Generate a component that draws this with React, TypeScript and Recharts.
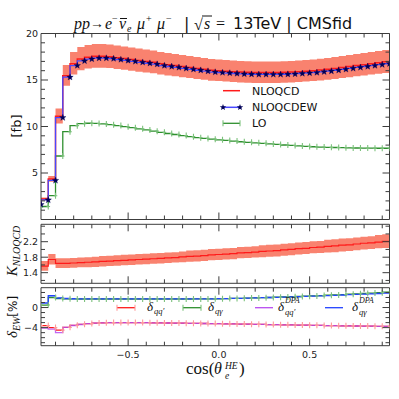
import React from "react";
import { ComposedChart, Line, Area, XAxis, YAxis } from "recharts";

// Differential cross section in cos(theta_e^HE) with K-factor and EW corrections.
// Each value sits at the right edge of its bin (step "pre" style).

const X_EDGES = [
  -0.98, -0.94, -0.9, -0.86, -0.82, -0.78, -0.74, -0.7, -0.66, -0.62,
  -0.58, -0.54, -0.5, -0.46, -0.42, -0.38, -0.34, -0.3, -0.26, -0.22,
  -0.18, -0.14, -0.1, -0.06, -0.02, 0.02, 0.06, 0.1, 0.14, 0.18,
  0.22, 0.26, 0.3, 0.34, 0.38, 0.42, 0.46, 0.5, 0.54, 0.58,
  0.62, 0.66, 0.7, 0.74, 0.78, 0.82, 0.86, 0.9, 0.94,
];

const NLOQCD = [
  1.7, 2.2, 4.35, 11.1, 15.45, 16.75, 17.25, 17.45, 17.55, 17.55,
  17.5, 17.4, 17.3, 17.2, 17.1, 17.0, 16.9, 16.75, 16.65, 16.55,
  16.45, 16.35, 16.25, 16.15, 16.05, 16.0, 15.95, 15.9, 15.85, 15.82,
  15.8, 15.8, 15.8, 15.8, 15.82, 15.85, 15.9, 15.95, 16.0, 16.08,
  16.15, 16.25, 16.35, 16.45, 16.55, 16.65, 16.75, 16.85, 16.95,
];
const NLOQCD_HI = [
  1.83, 2.37, 4.68, 11.93, 16.61, 18.0, 18.54, 18.76, 18.87, 18.87,
  18.81, 18.71, 18.6, 18.49, 18.38, 18.28, 18.17, 18.01, 17.9, 17.79,
  17.68, 17.58, 17.47, 17.36, 17.25, 17.2, 17.15, 17.09, 17.04, 17.01,
  16.99, 16.99, 16.99, 16.99, 17.01, 17.04, 17.09, 17.15, 17.2, 17.29,
  17.36, 17.47, 17.58, 17.68, 17.79, 17.9, 18.01, 18.11, 18.22,
];
const NLOQCD_LO = [
  1.58, 2.05, 4.05, 10.32, 14.37, 15.58, 16.04, 16.23, 16.32, 16.32,
  16.28, 16.18, 16.09, 16.0, 15.9, 15.81, 15.72, 15.58, 15.48, 15.39,
  15.3, 15.21, 15.11, 15.02, 14.93, 14.88, 14.83, 14.79, 14.74, 14.71,
  14.69, 14.69, 14.69, 14.69, 14.71, 14.74, 14.79, 14.83, 14.88, 14.95,
  15.02, 15.11, 15.21, 15.3, 15.39, 15.48, 15.58, 15.67, 15.76,
];
const NLOQCDEW = [
  1.6, 2.1, 4.2, 10.95, 15.3, 16.55, 17.05, 17.25, 17.35, 17.35,
  17.3, 17.2, 17.1, 17.0, 16.9, 16.8, 16.7, 16.55, 16.45, 16.35,
  16.25, 16.15, 16.05, 15.95, 15.85, 15.8, 15.75, 15.7, 15.65, 15.62,
  15.6, 15.6, 15.6, 15.6, 15.62, 15.65, 15.7, 15.75, 15.8, 15.88,
  15.95, 16.05, 16.15, 16.25, 16.35, 16.45, 16.55, 16.65, 16.75,
];
const LO = [
  1.38, 1.4, 2.56, 6.83, 9.44, 10.09, 10.3, 10.35, 10.33, 10.28,
  10.2, 10.1, 9.98, 9.87, 9.75, 9.63, 9.5, 9.37, 9.25, 9.14,
  9.02, 8.91, 8.8, 8.72, 8.64, 8.57, 8.5, 8.43, 8.36, 8.3,
  8.24, 8.19, 8.13, 8.07, 8.01, 7.96, 7.91, 7.86, 7.82, 7.79,
  7.76, 7.74, 7.72, 7.7, 7.69, 7.68, 7.67, 7.66, 7.66,
];

const K_NLO = [
  1.57, 1.57, 1.74, 1.64, 1.64, 1.65, 1.66, 1.67, 1.68, 1.69,
  1.7, 1.71, 1.72, 1.73, 1.74, 1.75, 1.76, 1.77, 1.78, 1.79,
  1.81, 1.82, 1.83, 1.84, 1.86, 1.87, 1.88, 1.89, 1.91, 1.92,
  1.93, 1.95, 1.96, 1.97, 1.99, 2.0, 2.02, 2.03, 2.05, 2.06,
  2.08, 2.09, 2.11, 2.12, 2.14, 2.16, 2.17, 2.19, 2.21,
];
const K_HI = [
  1.7, 1.7, 1.88, 1.77, 1.77, 1.78, 1.79, 1.8, 1.81, 1.83,
  1.84, 1.85, 1.86, 1.87, 1.88, 1.89, 1.9, 1.91, 1.92, 1.93,
  1.95, 1.97, 1.98, 1.99, 2.01, 2.02, 2.03, 2.04, 2.06, 2.07,
  2.08, 2.11, 2.12, 2.13, 2.15, 2.16, 2.18, 2.19, 2.21, 2.22,
  2.25, 2.26, 2.28, 2.29, 2.31, 2.33, 2.34, 2.37, 2.39,
];
const K_LO = [
  1.45, 1.45, 1.61, 1.52, 1.52, 1.53, 1.54, 1.54, 1.55, 1.56,
  1.57, 1.58, 1.59, 1.6, 1.61, 1.62, 1.63, 1.64, 1.65, 1.66,
  1.67, 1.68, 1.69, 1.7, 1.72, 1.73, 1.74, 1.75, 1.77, 1.78,
  1.79, 1.8, 1.81, 1.82, 1.84, 1.85, 1.87, 1.88, 1.9, 1.91,
  1.92, 1.93, 1.95, 1.96, 1.98, 2.0, 2.01, 2.03, 2.04,
];

// EW corrections in percent
const D_QQ = [
  -3.6, -3.6, -4.0, -4.5, -3.95, -3.55, -3.35, -3.2, -3.1, -3.05,
  -3.0, -3.0, -3.0, -3.0, -3.0, -3.02, -3.04, -3.06, -3.08, -3.1,
  -3.12, -3.14, -3.16, -3.18, -3.2, -3.22, -3.25, -3.27, -3.3, -3.32,
  -3.35, -3.37, -3.4, -3.42, -3.45, -3.47, -3.5, -3.52, -3.55, -3.57,
  -3.6, -3.62, -3.64, -3.66, -3.68, -3.7, -3.72, -3.74, -3.76,
];
const D_QA = [
  0.5, 0.5, 2.0, 1.8, 1.75, 1.72, 1.7, 1.7, 1.7, 1.7,
  1.7, 1.7, 1.7, 1.7, 1.7, 1.7, 1.7, 1.7, 1.7, 1.7,
  1.7, 1.7, 1.71, 1.72, 1.73, 1.75, 1.78, 1.81, 1.84, 1.88,
  1.92, 1.96, 2.0, 2.05, 2.1, 2.15, 2.2, 2.26, 2.32, 2.38,
  2.45, 2.52, 2.59, 2.66, 2.73, 2.8, 2.88, 2.96, 3.05,
];
const D_QQ_DPA = [
  -4.1, -4.1, -4.3, -5.0, -3.95, -3.58, -3.38, -3.22, -3.12, -3.07,
  -3.0, -3.0, -3.0, -3.0, -3.0, -3.02, -3.04, -3.06, -3.08, -3.1,
  -3.12, -3.14, -3.16, -3.18, -3.2, -3.22, -3.25, -3.27, -3.3, -3.32,
  -3.35, -3.37, -3.4, -3.42, -3.45, -3.47, -3.5, -3.52, -3.55, -3.57,
  -3.6, -3.62, -3.64, -3.66, -3.68, -3.7, -3.72, -3.74, -3.76,
];
const D_QA_DPA = [
  0.9, 0.9, 2.35, 1.9, 1.8, 1.75, 1.73, 1.72, 1.72, 1.72,
  1.72, 1.72, 1.72, 1.72, 1.72, 1.72, 1.72, 1.72, 1.72, 1.72,
  1.72, 1.72, 1.72, 1.73, 1.74, 1.76, 1.78, 1.81, 1.84, 1.88,
  1.92, 1.96, 2.0, 2.04, 2.08, 2.12, 2.17, 2.22, 2.27, 2.32,
  2.38, 2.44, 2.5, 2.56, 2.62, 2.68, 2.74, 2.8, 2.87,
];

const X_TICKS = [-0.9, -0.8, -0.7, -0.6, -0.5, -0.4, -0.3, -0.2, -0.1, 0, 0.1, 0.2, 0.3, 0.4, 0.5, 0.6, 0.7, 0.8, 0.9];
const X_MAJOR = [-0.5, 0, 0.5];
const TOP_Y_TICKS = [1, 2, 3, 4, 5, 6, 7, 8, 9, 10, 11, 12, 13, 14, 15, 16, 17, 18, 19, 20];
const TOP_Y_MAJOR = [5, 10, 15, 20];
const K_Y_TICKS = [1.2, 1.4, 1.6, 1.8, 2.0, 2.2, 2.4, 2.6];
const K_Y_MAJOR = [1.4, 1.8, 2.2];
const EW_Y_TICKS = [-7, -6, -5, -4, -3, -2, -1, 0, 1, 2, 3];
const EW_Y_MAJOR = [-4, 0];

const rows = X_EDGES.map((x, i) => ({
  x,
  nlo: NLOQCD[i],
  band: [NLOQCD_LO[i], NLOQCD_HI[i]],
  ew: NLOQCDEW[i],
  lo: LO[i],
  k: K_NLO[i],
  kband: [K_LO[i], K_HI[i]],
  dqq: D_QQ[i],
  dqa: D_QA[i],
  dqqDpa: D_QQ_DPA[i],
  dqaDpa: D_QA_DPA[i],
}));

const W = 399;
const H = 399;
const FRAME = "#3c3c3c";
const SANS = "DejaVu Sans";
const SERIF = "Liberation Serif";
const RED = "#ff1a1a";
const SALMON = "#f9826f";
const BLUE = "#4848ff";
const NAVY = "#000058";
const GREEN = "#2e8f2e";
const LIGHT_GREEN = "#7cc27c";
const LIGHT_RED = "#ff9a9a";
const MAGENTA = "#b84cf0";
const BLUE2 = "#2242ff";

const near = (v: number, list: number[]) => list.some((m) => Math.abs(m - v) < 1e-6);
const minus = (s: string) => s.replace("-", "\u2212");

const xTickBottom = (labels: boolean) => (p: any) => {
  const v = p.payload.value;
  const major = near(v, X_MAJOR);
  return (
    <g>
      <line x1={p.x} x2={p.x} y1={p.y} y2={p.y - (major ? 7 : 4)} stroke={FRAME} />
      {labels && major && (
        <text x={p.x} y={p.y + 12.5} textAnchor="middle" fontSize={9.5} fontFamily={SANS} fill="#222">
          {minus(v.toFixed(1))}
        </text>
      )}
    </g>
  );
};

const xTickTop = (p: any) => {
  const major = near(p.payload.value, X_MAJOR);
  return <line x1={p.x} x2={p.x} y1={p.y} y2={p.y + (major ? 7 : 4)} stroke={FRAME} />;
};

const yTickLeft = (majors: number[], fmt: (v: number) => string) => (p: any) => {
  const v = p.payload.value;
  const major = near(v, majors);
  return (
    <g>
      <line x1={p.x} x2={p.x + (major ? 7 : 4)} y1={p.y} y2={p.y} stroke={FRAME} />
      {major && (
        <text x={p.x - 3} y={p.y + 3.4} textAnchor="end" fontSize={9.5} fontFamily={SANS} fill="#222">
          {minus(fmt(v))}
        </text>
      )}
    </g>
  );
};

const yTickRight = (majors: number[]) => (p: any) => {
  const major = near(p.payload.value, majors);
  return <line x1={p.x} x2={p.x - (major ? 7 : 4)} y1={p.y} y2={p.y} stroke={FRAME} />;
};

function starPoints(cx: number, cy: number, r: number) {
  const pts: string[] = [];
  for (let k = 0; k < 10; k++) {
    const rad = k % 2 === 0 ? r : r * 0.42;
    const a = -Math.PI / 2 + (k * Math.PI) / 5;
    pts.push(`${cx + rad * Math.cos(a)},${cy + rad * Math.sin(a)}`);
  }
  return pts.join(" ");
}

const starDot = (p: any) => (
  <polygon key={`s${p.index}`} points={starPoints(p.cx, p.cy, 3.4)} fill={NAVY} stroke={NAVY} strokeWidth={0.3} />
);

const plusDot = (color: string, h: number) => (p: any) => (
  <g key={`p${p.index}`}>
    <line x1={p.cx} x2={p.cx} y1={p.cy - h} y2={p.cy + h} stroke={color} strokeWidth={1.1} />
    <line x1={p.cx - h * 0.6} x2={p.cx + h * 0.6} y1={p.cy} y2={p.cy} stroke={color} strokeWidth={1.1} />
  </g>
);

function Panel({
  plotTop,
  plotBottom,
  domain,
  yTicks,
  yMajor,
  fmt,
  xLabels,
  children,
}: {
  plotTop: number;
  plotBottom: number;
  domain: [number, number];
  yTicks: number[];
  yMajor: number[];
  fmt: (v: number) => string;
  xLabels: boolean;
  children: React.ReactNode;
}) {
  return (
    <div style={{ position: "absolute", left: 0, top: 0 }}>
      <ComposedChart
        width={W}
        height={H}
        data={rows}
        margin={{ top: plotTop - 1, bottom: H - plotBottom - 1, left: 0, right: 0 }}
      >
        <XAxis
          dataKey="x"
          type="number"
          domain={[-0.98, 0.94]}
          allowDataOverflow
          ticks={X_TICKS}
          interval={0}
          height={1}
          tickSize={0}
          tickMargin={0}
          tickLine={false}
          axisLine={{ stroke: FRAME }}
          tick={xTickBottom(xLabels)}
        />
        <XAxis
          xAxisId="top"
          orientation="top"
          dataKey="x"
          type="number"
          domain={[-0.98, 0.94]}
          allowDataOverflow
          ticks={X_TICKS}
          interval={0}
          height={1}
          tickSize={0}
          tickMargin={0}
          tickLine={false}
          axisLine={{ stroke: FRAME }}
          tick={xTickTop}
        />
        <YAxis
          type="number"
          domain={domain}
          allowDataOverflow
          ticks={yTicks}
          interval={0}
          width={41}
          tickSize={0}
          tickMargin={0}
          tickLine={false}
          axisLine={{ stroke: FRAME }}
          tick={yTickLeft(yMajor, fmt)}
        />
        <YAxis
          yAxisId="right"
          orientation="right"
          type="number"
          domain={domain}
          allowDataOverflow
          ticks={yTicks}
          interval={0}
          width={9.5}
          tickSize={0}
          tickMargin={0}
          tickLine={false}
          axisLine={{ stroke: FRAME }}
          tick={yTickRight(yMajor)}
        />
        {children}
      </ComposedChart>
    </div>
  );
}

function Overlay() {
  const t = { fill: "#111" };
  return (
    <svg width={W} height={H} style={{ position: "absolute", left: 0, top: 0, pointerEvents: "none" }}>
      {/* title */}
      <g fontSize={16} fontFamily={SERIF} {...t}>
        <text x={74} y={29} fontStyle="italic">pp</text>
        <text x={90} y={28} fontSize={14}>→</text>
        <text x={105} y={29} fontStyle="italic">e</text>
        <text x={112} y={22} fontSize={10}>−</text>
        <text x={119} y={29} fontStyle="italic">ν</text>
        <line x1={120} x2={127} y1={18.5} y2={18.5} stroke="#111" strokeWidth={1} />
        <text x={127} y={32} fontSize={10} fontStyle="italic">e</text>
        <text x={137} y={29} fontStyle="italic">μ</text>
        <text x={146} y={22} fontSize={10}>+</text>
        <text x={157} y={29} fontStyle="italic">μ</text>
        <text x={166} y={22} fontSize={10}>−</text>
        <text x={184} y={29} fontFamily={SANS} fontSize={16}>|</text>
        <text x={194} y={30}>√</text>
        <line x1={202} x2={212} y1={16} y2={16} stroke="#111" strokeWidth={1} />
        <text x={204} y={29} fontStyle="italic">s</text>
        <text x={216} y={29}>=</text>
        <text x={233} y={29} fontFamily={SANS} fontSize={16}>13TeV | CMSfid</text>
      </g>

      {/* y labels */}
      <text transform="translate(21,126) rotate(-90)" textAnchor="middle" fontFamily={SANS} fontSize={13} {...t}>
        [fb]
      </text>
      <text transform="translate(17,251) rotate(-90)" textAnchor="middle" fontFamily={SERIF} fontStyle="italic" {...t}>
        <tspan fontSize={15}>K</tspan>
        <tspan fontSize={10} dy={3}>NLOQCD</tspan>
      </text>
      <text transform="translate(17,317) rotate(-90)" textAnchor="middle" {...t}>
        <tspan fontFamily={SERIF} fontStyle="italic" fontSize={15}>δ</tspan>
        <tspan fontFamily={SERIF} fontStyle="italic" fontSize={10} dy={3}>EW</tspan>
        <tspan fontFamily={SANS} fontSize={12} dy={-3}>[%]</tspan>
      </text>

      {/* x label */}
      <g fontFamily={SERIF} {...t}>
        <text x={186} y={374} fontSize={17}>cos(</text>
        <text x={214} y={374} fontSize={16} fontStyle="italic">θ</text>
        <text x={225} y={368.5} fontSize={9.5} fontStyle="italic">HE</text>
        <text x={225} y={379} fontSize={9.5} fontStyle="italic">e</text>
        <text x={239} y={374} fontSize={17}>)</text>
      </g>

      {/* top legend */}
      <g fontFamily={SANS} fontSize={11} {...t}>
        <line x1={223} x2={240} y1={90.7} y2={90.7} stroke={RED} strokeWidth={1.5} />
        <text x={252} y={94.6}>NLOQCD</text>
        <line x1={223} x2={240} y1={107.3} y2={107.3} stroke={BLUE} strokeWidth={1.5} />
        <polygon points={starPoints(223, 107.3, 3.4)} fill={NAVY} />
        <polygon points={starPoints(240, 107.3, 3.4)} fill={NAVY} />
        <text x={252} y={111.2}>NLOQCDEW</text>
        <line x1={223} x2={240} y1={123.3} y2={123.3} stroke={GREEN} strokeWidth={1.3} />
        <line x1={223} x2={223} y1={120.3} y2={126.3} stroke={LIGHT_GREEN} strokeWidth={1.1} />
        <line x1={240} x2={240} y1={120.3} y2={126.3} stroke={LIGHT_GREEN} strokeWidth={1.1} />
        <text x={252} y={127.2}>LO</text>
      </g>

      {/* bottom legend */}
      <g fontFamily={SERIF} fontStyle="italic" {...t}>
        <line x1={117} x2={135} y1={307.7} y2={307.7} stroke={RED} strokeWidth={1.3} />
        <line x1={117} x2={117} y1={304.7} y2={310.7} stroke={LIGHT_RED} strokeWidth={1.1} />
        <line x1={135} x2={135} y1={304.7} y2={310.7} stroke={LIGHT_RED} strokeWidth={1.1} />
        <text x={147} y={311} fontSize={13}>δ</text>
        <text x={154} y={314} fontSize={8.5}>qq′</text>

        <line x1={183} x2={201} y1={307.7} y2={307.7} stroke={GREEN} strokeWidth={1.3} />
        <line x1={183} x2={183} y1={304.7} y2={310.7} stroke={LIGHT_GREEN} strokeWidth={1.1} />
        <line x1={201} x2={201} y1={304.7} y2={310.7} stroke={LIGHT_GREEN} strokeWidth={1.1} />
        <text x={208} y={311} fontSize={13}>δ</text>
        <text x={215} y={314} fontSize={8.5}>qγ</text>

        <line x1={255} x2={273} y1={307.7} y2={307.7} stroke={MAGENTA} strokeWidth={1.3} />
        <text x={278} y={311} fontSize={13}>δ</text>
        <text x={285} y={302.5} fontSize={8}>DPA</text>
        <text x={285} y={314.5} fontSize={8.5}>qq′</text>

        <line x1={325} x2={343} y1={307.7} y2={307.7} stroke={BLUE2} strokeWidth={1.3} />
        <text x={352} y={311} fontSize={13}>δ</text>
        <text x={359} y={302.5} fontSize={8}>DPA</text>
        <text x={359} y={314.5} fontSize={8.5}>qγ</text>
      </g>
    </svg>
  );
}

export default function App() {
  return (
    <div style={{ position: "absolute", left: 0, top: 0, width: W, height: H, background: "#fff" }}>
      <Panel plotTop={33.5} plotBottom={219.5} domain={[0, 20]} yTicks={TOP_Y_TICKS} yMajor={TOP_Y_MAJOR} fmt={(v) => String(v)} xLabels={false}>
        <Area dataKey="band" type="stepBefore" fill={SALMON} fillOpacity={1} stroke="none" isAnimationActive={false} />
        <Line dataKey="lo" type="stepBefore" stroke={GREEN} strokeWidth={1.3} dot={plusDot(LIGHT_GREEN, 3)} isAnimationActive={false} />
        <Line dataKey="nlo" type="stepBefore" stroke={RED} strokeWidth={1.5} dot={false} isAnimationActive={false} />
        <Line dataKey="ew" type="stepBefore" stroke={BLUE} strokeWidth={1.3} dot={starDot} isAnimationActive={false} />
      </Panel>
      <Panel plotTop={224.3} plotBottom={283.3} domain={[1.126, 2.649]} yTicks={K_Y_TICKS} yMajor={K_Y_MAJOR} fmt={(v) => v.toFixed(1)} xLabels={false}>
        <Area dataKey="kband" type="stepBefore" fill={SALMON} fillOpacity={1} stroke="none" isAnimationActive={false} />
        <Line dataKey="k" type="stepBefore" stroke={RED} strokeWidth={1.2} dot={false} isAnimationActive={false} />
      </Panel>
      <Panel plotTop={287.7} plotBottom={345.7} domain={[-7.6, 3.95]} yTicks={EW_Y_TICKS} yMajor={EW_Y_MAJOR} fmt={(v) => String(v)} xLabels={true}>
        <Line dataKey="dqq" type="stepBefore" stroke={RED} strokeWidth={1.3} dot={plusDot(LIGHT_RED, 3)} isAnimationActive={false} />
        <Line dataKey="dqa" type="stepBefore" stroke={GREEN} strokeWidth={1.3} dot={plusDot(LIGHT_GREEN, 3)} isAnimationActive={false} />
        <Line dataKey="dqqDpa" type="stepBefore" stroke={MAGENTA} strokeOpacity={0.85} strokeWidth={1.3} dot={false} isAnimationActive={false} />
        <Line dataKey="dqaDpa" type="stepBefore" stroke={BLUE2} strokeWidth={1.3} dot={false} isAnimationActive={false} />
      </Panel>
      <Overlay />
    </div>
  );
}
